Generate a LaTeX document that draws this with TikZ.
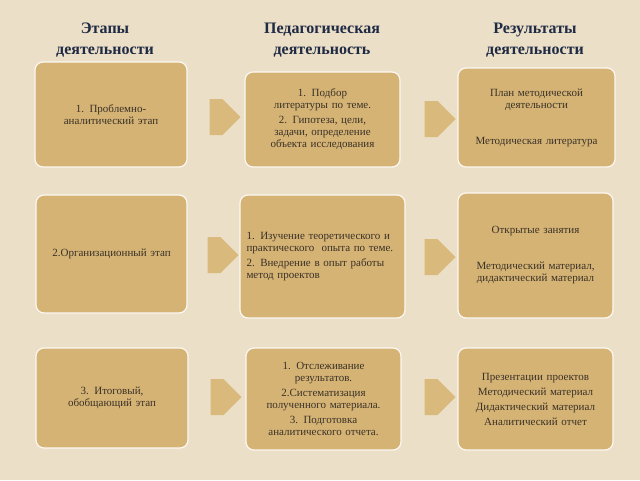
\documentclass[tikz,border=0pt]{standalone}
\usepackage{fontspec}
\setmainfont{Liberation Serif}
\usetikzlibrary{shapes.arrows}
\definecolor{bg}{HTML}{EBDFC7}
\definecolor{boxc}{HTML}{D5B375}
\definecolor{arrc}{HTML}{DABA7C}
\definecolor{hdr}{HTML}{1F2A44}
\definecolor{txt}{HTML}{3A3126}
\tikzset{
 box/.style={draw=white!92!boxc, line width=1.2pt, fill=boxc, rounded corners=8pt, text=txt, font=\fontsize{11}{12}\selectfont, align=center, inner sep=3pt},
 hd/.style={text=hdr, font=\bfseries\fontsize{16}{21}\selectfont, align=center},
 arr/.style={single arrow, fill=arrc, minimum width=36pt, single arrow head extend=0pt, minimum height=31pt, inner sep=0pt, single arrow tip angle=90}
}
\newcommand{\bx}[6]{\node[box, minimum width=#4-#2, minimum height=#5-#3, text width=#4-#2-20pt] (#1) at ({(#2+#4)/2*1pt},{-(#3+#5)/2*1pt}) {#6};}
\begin{document}
\begin{tikzpicture}[x=1pt,y=-1pt]
\useasboundingbox[fill=bg] (0,0) rectangle (640,480);
\node[hd] (h1) at (105,40) {Этапы\\деятельности};
\node[hd] (h2) at (322,40) {Педагогическая\\деятельность};
\node[hd] (h3) at (535,40) {Результаты\\деятельности};
\bx{a1}{35}{62}{187}{167}{1. Проблемно-\\аналитический этап}
\bx{b1}{245}{72}{400}{167}{1. Подбор литературы по теме.\\[3pt]2. Гипотеза, цели, задачи, определение объекта исследования}
\bx{c1}{458}{68}{615}{167}{План методической деятельности\\[24pt]Методическая литература}
\bx{a2}{36}{195}{187}{313}{2.Организационный этап}
\node[box, minimum width=165, minimum height=123, text width=152, align=left] (b2) at (322.5,256.5) {1. Изучение теоретического и практического~ опыта по теме.\\[3pt]2. Внедрение в опыт работы метод проектов};
\bx{c2}{458}{193}{613}{318}{Открытые занятия\\[24pt]Методический материал, дидактический материал}
\bx{a3}{36}{348}{188}{448}{3. Итоговый,\\обобщающий этап}
\bx{b3}{246}{348}{401}{450}{1. Отслеживание результатов.\\[3pt]2.Систематизация полученного материала.\\[3pt]3. Подготовка аналитического отчета.}
\bx{c3}{458}{348}{613}{450}{Презентации проектов\\[3pt]Методический материал\\[3pt]Дидактический материал\\[3pt]Аналитический отчет}
\node[arr] (r11) at (216,117) {};
\node[arr] (r12) at (431,119) {};
\node[arr] (r21) at (214,255) {};
\node[arr] (r22) at (431,257) {};
\node[arr] (r31) at (217,397) {};
\node[arr] (r32) at (431,397) {};
\end{tikzpicture}
\end{document}
